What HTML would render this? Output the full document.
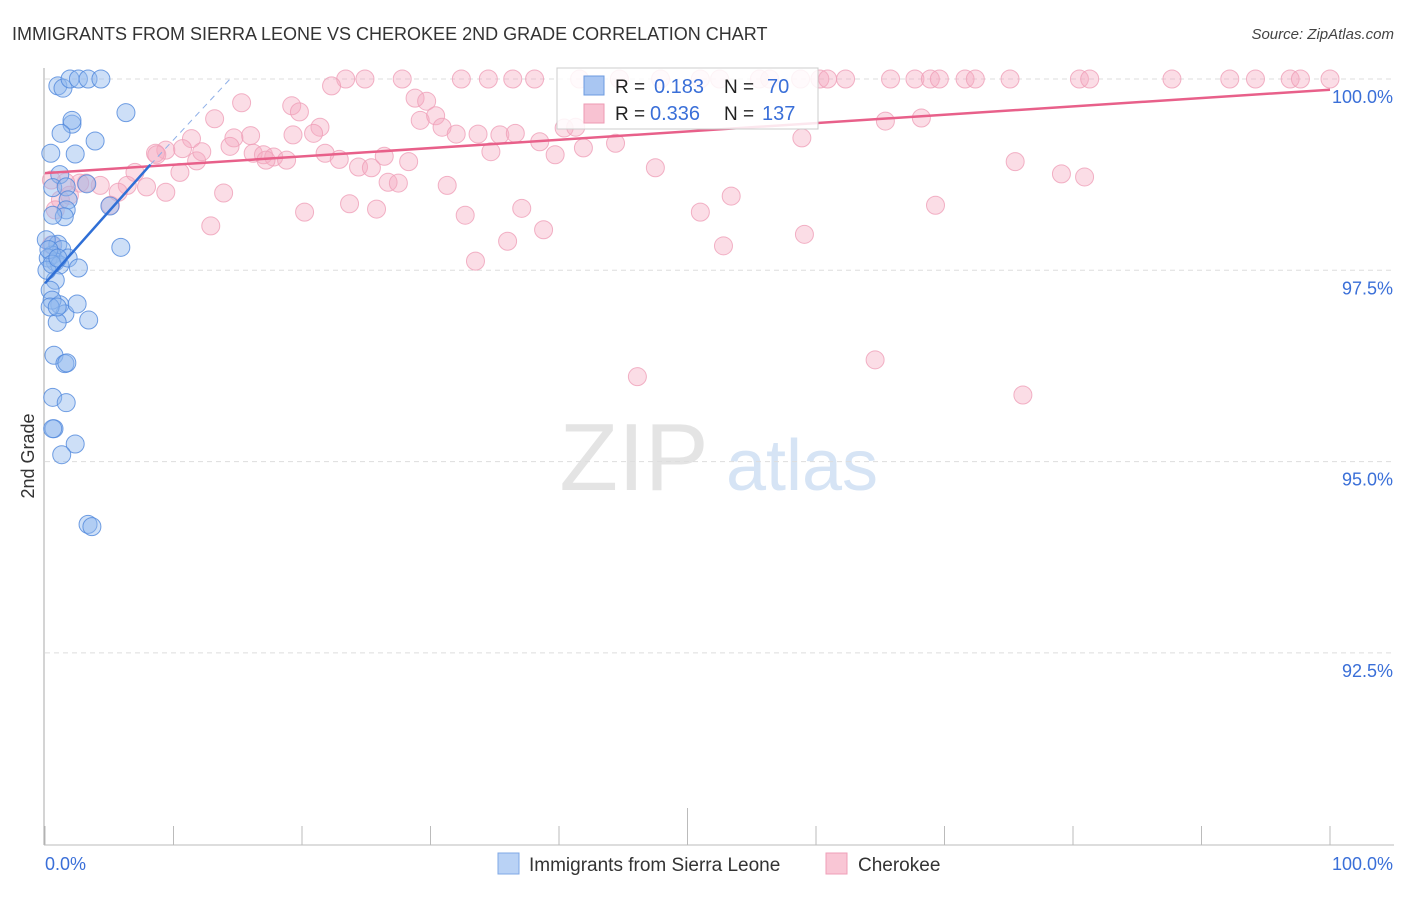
<!DOCTYPE html>
<html><head><meta charset="utf-8"><style>
body{margin:0;background:#fff;font-family:"Liberation Sans",sans-serif}
svg text{font-family:"Liberation Sans",sans-serif}
</style></head><body>
<svg id="chart" width="1406" height="892" viewBox="0 0 1406 892" xmlns="http://www.w3.org/2000/svg">
<text x="12" y="40" font-size="18" fill="#333">IMMIGRANTS FROM SIERRA LEONE VS CHEROKEE 2ND GRADE CORRELATION CHART</text>
<text x="1394" y="39" font-size="15" fill="#444" text-anchor="end" font-style="italic">Source: ZipAtlas.com</text>
<text transform="translate(34,456) rotate(-90)" font-size="18" fill="#333" text-anchor="middle">2nd Grade</text>
<g>
<text x="634" y="490" font-size="96" fill="#e4e4e4" font-family="Liberation Serif" text-anchor="middle">ZIP</text>
<text x="802" y="490" font-size="72" fill="#d6e4f5" text-anchor="middle">atlas</text>
</g>
<g id="grid"></g><g id="axes"></g><g id="lines"></g><g id="pts"></g>
<g>
<rect x="557" y="68" width="261" height="61" fill="#fff" fill-opacity="0.85" stroke="#ccc"/>
<rect x="584" y="76" width="20" height="19" fill="#a9c6f2" stroke="#6c9be0"/>
<rect x="584" y="104" width="20" height="19" fill="#f8c2d2" stroke="#ee9ab3"/>
<text x="615" y="93" font-size="19" fill="#222">R = </text><text x="654" y="93" font-size="20" fill="#3a6fd8">0.183</text>
<text x="724" y="93" font-size="19" fill="#222">N = </text><text x="767" y="93" font-size="20" fill="#3a6fd8">70</text>
<text x="615" y="120" font-size="19" fill="#222">R = </text><text x="650" y="120" font-size="20" fill="#3a6fd8">0.336</text>
<text x="724" y="120" font-size="19" fill="#222">N = </text><text x="762" y="120" font-size="20" fill="#3a6fd8">137</text>
</g>
<g>
<rect x="498" y="853" width="21" height="21" fill="#b9d2f5" stroke="#7fa8e6"/>
<text x="529" y="871" font-size="19" fill="#333">Immigrants from Sierra Leone</text>
<rect x="826" y="853" width="21" height="21" fill="#f9c6d5" stroke="#ef9fb8"/>
<text x="858" y="871" font-size="19" fill="#333">Cherokee</text>
</g>
</svg>
<script>
const yTicks=[100,97.5,95,92.5];
const yTickLabels=["100.0%","97.5%","95.0%","92.5%"];
const xTicks=[0,10,20,30,40,50,60,70,80,90,100];
const blueX=[1.0,1.4,1.95,2.6,3.35,4.35,6.3,2.1,2.1,1.25,3.9,0.45,2.35,1.15,0.6,1.65,1.8,1.65,1.5,0.6,5.05,3.25,0.6,1.0,1.3,5.9,0.55,0.8,0.25,1.15,1.8,2.6,0.8,0.4,1.15,1.55,2.5,3.4,0.95,0.55,0.7,1.55,1.7,0.6,1.65,0.7,0.6,2.35,1.3,3.35,3.65,0.1,0.15,0.4,0.95,0.3,0.55,1.0];
const blueY=[99.91,99.88,100,100,100,100,99.56,99.41,99.46,99.29,99.19,99.03,99.02,98.75,98.58,98.59,98.42,98.29,98.2,98.22,98.34,98.63,97.83,97.84,97.77,97.8,97.7,97.61,97.66,97.57,97.66,97.53,97.37,97.24,97.05,96.93,97.06,96.85,96.82,97.11,96.39,96.28,96.29,95.84,95.77,95.43,95.43,95.23,95.09,94.18,94.15,97.9,97.5,97.02,97.02,97.77,97.58,97.66];
const pinkX=[23.4,24.9,27.8,32.4,34.5,36.4,38.1,41.6,44.7,47.9,51.0,52.5,55.6,56.4,58.8,60.3,60.9,62.3,65.8,67.7,68.9,69.6,71.6,72.4,75.1,80.5,81.3,87.7,92.2,94.2,96.9,97.7,100.0,22.3,
15.3,13.2,19.2,19.8,21.4,20.9,19.3,16.0,14.7,14.4,11.4,10.7,9.4,8.6,8.7,10.5,11.8,12.2,16.2,17.0,17.8,18.8,17.2,21.8,22.9,24.4,25.4,26.4,28.3,26.7,27.5,28.8,29.7,29.2,30.4,30.9,32.0,33.7,34.7,35.4,36.6,38.5,39.7,40.4,41.3,41.9,44.4,47.5,58.9,65.4,68.2,75.5,79.1,80.9,31.3,32.7,23.7,25.8,20.2,13.9,12.9,9.4,7.9,7.0,6.4,5.7,5.1,4.3,3.2,2.7,1.6,1.2,0.8,1.9,0.5,33.5,36.0,37.1,38.8,51.0,52.8,53.4,59.1,69.3,64.6,46.1,76.1,0.5];
const pinkY=[100,100,100,100,100,100,100,100,100,100,100,100,100,100,100,100,100,100,100,100,100,100,100,100,100,100,100,100,100,100,100,100,100,99.91,
99.69,99.48,99.65,99.57,99.37,99.29,99.27,99.26,99.23,99.12,99.22,99.09,99.07,99.03,99.01,98.78,98.93,99.05,99.03,99.01,98.98,98.94,98.94,99.03,98.95,98.85,98.84,98.99,98.92,98.65,98.64,99.75,99.71,99.46,99.52,99.37,99.28,99.28,99.05,99.27,99.29,99.18,99.01,99.36,99.37,99.10,99.16,98.84,99.23,99.45,99.49,98.92,98.76,98.72,98.61,98.22,98.37,98.30,98.26,98.51,98.08,98.52,98.59,98.78,98.61,98.52,98.35,98.61,98.64,98.64,98.65,98.42,98.29,98.48,97.83,97.62,97.88,98.31,98.03,98.26,97.82,98.47,97.97,98.35,96.33,96.11,95.87,98.68];
const pinkTrend=[0,98.77,100,99.86];
const blueTrend=[0,97.33,8.2,98.88,14.4,100];
const NS="http://www.w3.org/2000/svg";
const X=v=>45+v*12.85;
const Y=v=>79+(100-v)/2.5*191.3;
function mk(tag,attrs,parent){const e=document.createElementNS(NS,tag);for(const k in attrs)e.setAttribute(k,attrs[k]);document.getElementById(parent).appendChild(e);return e;}
yTicks.forEach((t,i)=>{
  const g=mk('line',{x1:45,x2:1394,y1:Y(t),y2:Y(t),stroke:'#ddd','stroke-dasharray':'5,4'},'grid');
  
  
  const l=mk('text',{x:1393,y:Y(t)+24,'font-size':18,fill:'#3a6fd8','text-anchor':'end'},'grid');
  l.textContent=yTickLabels[i];
  
  
});
const ax=mk('line',{x1:44,x2:44,y1:68,y2:845,stroke:'#aaa'},'axes');


const bx=mk('line',{x1:44,x2:1394,y1:845,y2:845,stroke:'#bbb'},'axes');


xTicks.forEach(t=>{
  const tk=mk('line',{x1:X(t),x2:X(t),y1:(t===50?808:826),y2:845,stroke:'#bbb'},'axes');
  
  
});
const x0=mk('text',{x:45,y:870,'font-size':18,fill:'#3a6fd8'},'axes');x0.textContent='0.0%';


const x1=mk('text',{x:1393,y:870,'font-size':18,fill:'#3a6fd8','text-anchor':'end'},'axes');x1.textContent='100.0%';


pinkX.forEach((v,i)=>{
  const c=mk('circle',{cx:X(v),cy:Y(pinkY[i]),r:9,fill:'#f6a9c0','fill-opacity':0.4,stroke:'#ef9fb8','stroke-opacity':0.8},'pts');
  
  
});
blueX.forEach((v,i)=>{
  const c=mk('circle',{cx:X(v),cy:Y(blueY[i]),r:9,fill:'#90b8ee','fill-opacity':0.45,stroke:'#4f87dc','stroke-opacity':0.8},'pts');
  
  
});
const pl=mk('line',{x1:X(pinkTrend[0]),y1:Y(pinkTrend[1]),x2:X(pinkTrend[2]),y2:Y(pinkTrend[3]),stroke:'#e8608a','stroke-width':2.5},'pts');


const bl=mk('line',{x1:X(blueTrend[0]),y1:Y(blueTrend[1]),x2:X(blueTrend[2]),y2:Y(blueTrend[3]),stroke:'#2f6fd6','stroke-width':2.5},'pts');


const bd=mk('line',{x1:X(blueTrend[2]),y1:Y(blueTrend[3]),x2:X(blueTrend[4]),y2:Y(blueTrend[5]),stroke:'#8fb0e8','stroke-width':1,'stroke-dasharray':'6,5'},'pts');


</script>
</body></html>
